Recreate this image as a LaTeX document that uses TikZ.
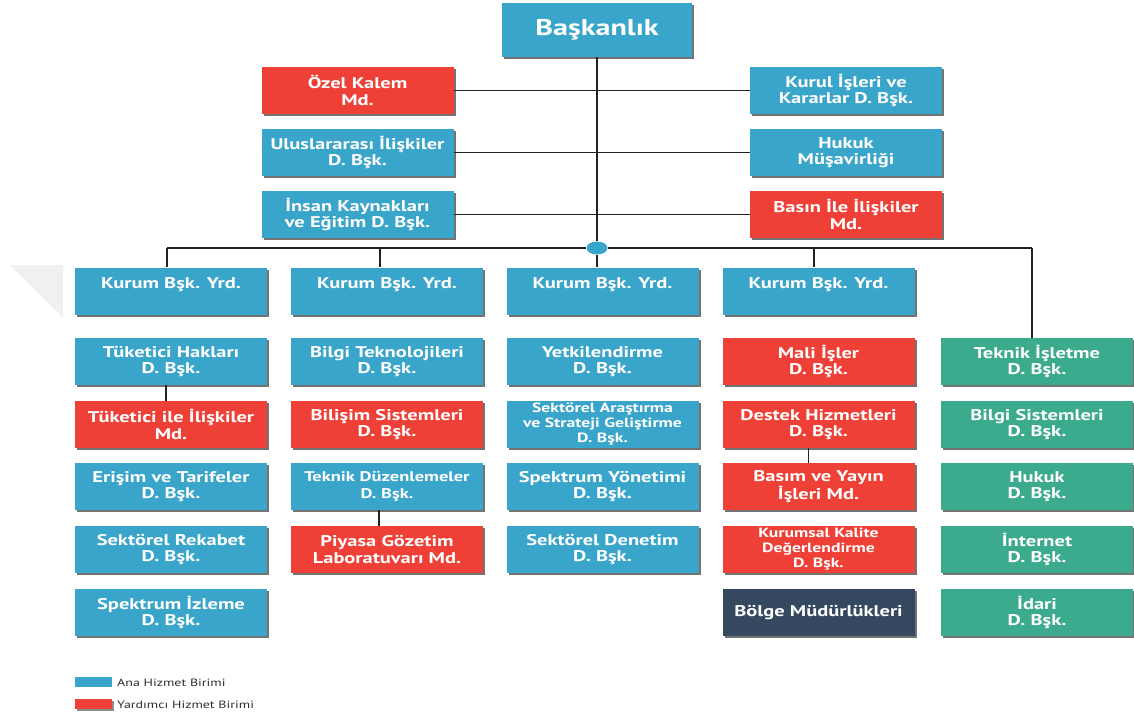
\documentclass[tikz,border=0pt]{standalone}
\usepackage{fontspec}
\setmainfont{PT Sans}[FakeStretch=1.32]
\usetikzlibrary{shadows,shapes.geometric}
\definecolor{anablue}{HTML}{3AA5CA}
\definecolor{yardred}{HTML}{EE4036}
\definecolor{tekgreen}{HTML}{3BAA8D}
\definecolor{bolgedark}{HTML}{34495F}
\definecolor{linkline}{HTML}{222222}
\definecolor{legendtext}{HTML}{2E2E2E}
\begin{document}
\begin{tikzpicture}[x=1pt,y=-1pt,
  unit/.style={draw=none, minimum width=192pt, minimum height=47pt, inner sep=0pt,
    align=center, text=white, font=\bfseries\fontsize{15.5}{16.5}\selectfont,
    drop shadow={shadow xshift=2pt, shadow yshift=-2pt, opacity=0.55, fill=black}},
  ana/.style={unit, fill=anablue},
  yard/.style={unit, fill=yardred},
  tek/.style={unit, fill=tekgreen},
  bolge/.style={unit, fill=bolgedark},
  smalltext/.style={font=\bfseries\fontsize{13.4}{15}\selectfont},
  midtext/.style={font=\bfseries\fontsize{14}{17}\selectfont},
  link/.style={draw=linkline, line width=1.6pt},
  swatch/.style={minimum width=37pt, minimum height=10pt, inner sep=0pt},
  legendlabel/.style={anchor=west, inner sep=0pt, text=legendtext, font=\fontsize{10.6}{12}\selectfont}
]
\useasboundingbox (0,0) rectangle (1134,717);

% faint corner mark on the left margin
\fill[gray!12] (10,265) -- (63,265) -- (63,318) -- cycle;

% head of the organisation
\node[ana, minimum width=190pt, minimum height=54pt, font=\bfseries\fontsize{22.8}{24}\selectfont] (bask) at (597,30) {Başkanlık};

% units attached directly to the head
\node[yard] (ozel)  at (357.5,90.5)  {Özel Kalem\\Md.};
\node[ana]  (kurul) at (846,90.5)    {Kurul İşleri ve\\Kararlar D. Bşk.};
\node[ana]  (ulus)  at (357.5,152.5) {Uluslararası İlişkiler\\D. Bşk.};
\node[ana]  (hukm)  at (846,152.5)   {Hukuk\\Müşavirliği};
\node[ana]  (insan) at (357.5,214.5) {İnsan Kaynakları\\ve Eğitim D. Bşk.};
\node[yard] (basin) at (846,214.5)   {Basın İle İlişkiler\\Md.};

% distribution bus
\node[ellipse, fill=anablue, minimum width=21pt, minimum height=13pt, inner sep=0pt] (hub) at (597,248) {};
\coordinate (b1) at (167,248);
\coordinate (b2) at (380,248);
\coordinate (b4) at (814,248);
\coordinate (b5) at (1032,248);

% vice presidents
\node[ana] (k1) at (171,291)   {Kurum Bşk. Yrd.\\\mbox{}};
\node[ana] (k2) at (387,291)   {Kurum Bşk. Yrd.\\\mbox{}};
\node[ana] (k3) at (602.5,291) {Kurum Bşk. Yrd.\\\mbox{}};
\node[ana] (k4) at (818.5,291) {Kurum Bşk. Yrd.\\\mbox{}};

% column 1
\node[ana]  (c1a) at (171,361.5) {Tüketici Hakları\\D. Bşk.};
\node[yard] (c1b) at (171,424.5) {Tüketici ile İlişkiler\\Md.};
\node[ana]  (c1c) at (171,486.5) {Erişim ve Tarifeler\\D. Bşk.};
\node[ana]  (c1d) at (171,549.5) {Sektörel Rekabet\\D. Bşk.};
\node[ana]  (c1e) at (171,612.5) {Spektrum İzleme\\D. Bşk.};

% column 2
\node[ana]  (c2a) at (387,361.5) {Bilgi Teknolojileri\\D. Bşk.};
\node[yard] (c2b) at (387,424.5) {Bilişim Sistemleri\\D. Bşk.};
\node[ana, midtext] (c2c) at (387,486.5) {Teknik Düzenlemeler\\D. Bşk.};
\node[yard] (c2d) at (387,549.5) {Piyasa Gözetim\\Laboratuvarı Md.};

% column 3
\node[ana] (c3a) at (602.5,361.5) {Yetkilendirme\\D. Bşk.};
\node[ana, smalltext] (c3b) at (602.5,424.5) {Sektörel Araştırma\\ve Strateji Geliştirme\\D. Bşk.};
\node[ana] (c3c) at (602.5,486.5) {Spektrum Yönetimi\\D. Bşk.};
\node[ana] (c3d) at (602.5,549.5) {Sektörel Denetim\\D. Bşk.};

% column 4
\node[yard] (c4a) at (818.5,361.5) {Mali İşler\\D. Bşk.};
\node[yard] (c4b) at (818.5,424.5) {Destek Hizmetleri\\D. Bşk.};
\node[yard] (c4c) at (818.5,486.5) {Basım ve Yayın\\İşleri Md.};
\node[yard, smalltext] (c4d) at (818.5,549.5) {Kurumsal Kalite\\Değerlendirme\\D. Bşk.};
\node[bolge] (c4e) at (818.5,612.5) {Bölge Müdürlükleri};

% column 5
\node[tek] (c5a) at (1037,361.5) {Teknik İşletme\\D. Bşk.};
\node[tek] (c5b) at (1037,424.5) {Bilgi Sistemleri\\D. Bşk.};
\node[tek] (c5c) at (1037,486.5) {Hukuk\\D. Bşk.};
\node[tek] (c5d) at (1037,549.5) {İnternet\\D. Bşk.};
\node[tek] (c5e) at (1037,612.5) {İdari\\D. Bşk.};

% connectors
\draw[link] (bask.south) -- (hub.north);
\draw[link] (ozel.east)  -- (kurul.west);
\draw[link] (ulus.east)  -- (hukm.west);
\draw[link] (insan.east) -- (basin.west);
\draw[link] (b1) -- (hub.west);
\draw[link] (hub.east) -- (b5);
\draw[link] (b1) -- (b1 |- k1.north);
\draw[link] (b2) -- (b2 |- k2.north);
\draw[link] (hub.south) -- (hub.south |- k3.north);
\draw[link] (b4) -- (b4 |- k4.north);
\draw[link] (b5) -- (b5 |- c5a.north);
\draw[link] ([xshift=-5pt]c1a.south) -- ([xshift=-5pt]c1b.north);
\draw[link] ([xshift=-8pt]c2c.south) -- ([xshift=-8pt]c2d.north);
\draw[link] ([xshift=-10pt]c4b.south) -- ([xshift=-10pt]c4c.north);

% legend
\node[swatch, fill=anablue] (lga) at (93.5,682) {};
\node[legendlabel] (lgat) at (117,683) {Ana Hizmet Birimi};
\node[swatch, fill=yardred, drop shadow={shadow xshift=1.5pt, shadow yshift=-1.5pt, opacity=0.45, fill=black}] (lgb) at (93.5,704) {};
\node[legendlabel] (lgbt) at (117,705) {Yardımcı Hizmet Birimi};
\end{tikzpicture}
\end{document}
